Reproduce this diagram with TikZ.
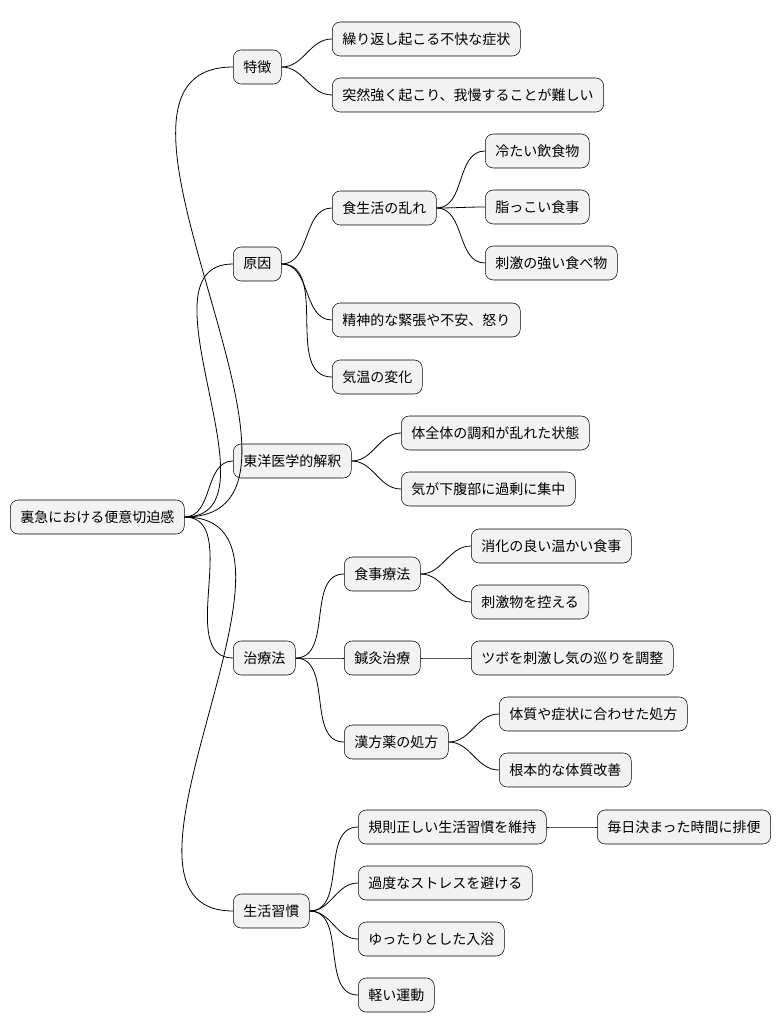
\documentclass[tikz,border=0pt]{standalone}
\usepackage{fontspec}
\setmainfont{Noto Sans CJK JP}
\tikzset{
  topic/.style={draw, rounded corners=6pt, fill=gray!10, anchor=west,
    minimum height=25.5pt, inner xsep=7.5pt, font=\fontsize{10.5pt}{12pt}\selectfont},
  branch/.style={draw, line width=0.6pt}
}
\newcommand{\link}[2]{\draw[branch] (#1.east) to[out=0,in=180] (#2.west);}
\begin{document}
\begin{tikzpicture}[x=0.75pt,y=-0.75pt]
\useasboundingbox (0,0) rectangle (782,1034);
\node[topic] (root) at (10,517) {裏急における便意切迫感};
% 特徴
\node[topic] (feat) at (233,67) {特徴};
\node[topic] (feat1) at (332,39) {繰り返し起こる不快な症状};
\node[topic] (feat2) at (332,95) {突然強く起こり、我慢することが難しい};
% 原因
\node[topic] (cause) at (233,264) {原因};
\node[topic] (diet) at (332,208) {食生活の乱れ};
\node[topic] (diet1) at (485,151) {冷たい飲食物};
\node[topic] (diet2) at (485,207) {脂っこい食事};
\node[topic] (diet3) at (485,263) {刺激の強い食べ物};
\node[topic] (mind) at (332,320) {精神的な緊張や不安、怒り};
\node[topic] (temp) at (332,377) {気温の変化};
% 東洋医学
\node[topic] (east) at (233,461) {東洋医学的解釈};
\node[topic] (east1) at (401,433) {体全体の調和が乱れた状態};
\node[topic] (east2) at (401,489) {気が下腹部に過剰に集中};
% 治療法
\node[topic] (cure) at (233,658) {治療法};
\node[topic] (food) at (344,574) {食事療法};
\node[topic] (food1) at (471,546) {消化の良い温かい食事};
\node[topic] (food2) at (471,602) {刺激物を控える};
\node[topic] (acu) at (344,658) {鍼灸治療};
\node[topic] (acu1) at (471,658) {ツボを刺激し気の巡りを調整};
\node[topic] (herb) at (344,742) {漢方薬の処方};
\node[topic] (herb1) at (499,714) {体質や症状に合わせた処方};
\node[topic] (herb2) at (499,770) {根本的な体質改善};
% 生活習慣
\node[topic] (life) at (233,911) {生活習慣};
\node[topic] (life1) at (358,827) {規則正しい生活習慣を維持};
\node[topic] (life1a) at (597,827) {毎日決まった時間に排便};
\node[topic] (life2) at (358,883) {過度なストレスを避ける};
\node[topic] (life3) at (358,939) {ゆったりとした入浴};
\node[topic] (life4) at (358,995) {軽い運動};
% connectors
\foreach \c in {feat,cause,east,cure,life} {\link{root}{\c}}
\foreach \c in {feat1,feat2} {\link{feat}{\c}}
\foreach \c in {diet,mind,temp} {\link{cause}{\c}}
\foreach \c in {diet1,diet2,diet3} {\link{diet}{\c}}
\foreach \c in {east1,east2} {\link{east}{\c}}
\foreach \c in {food,acu,herb} {\link{cure}{\c}}
\foreach \c in {food1,food2} {\link{food}{\c}}
\link{acu}{acu1}
\foreach \c in {herb1,herb2} {\link{herb}{\c}}
\foreach \c in {life1,life2,life3,life4} {\link{life}{\c}}
\link{life1}{life1a}
\end{tikzpicture}
\end{document}
